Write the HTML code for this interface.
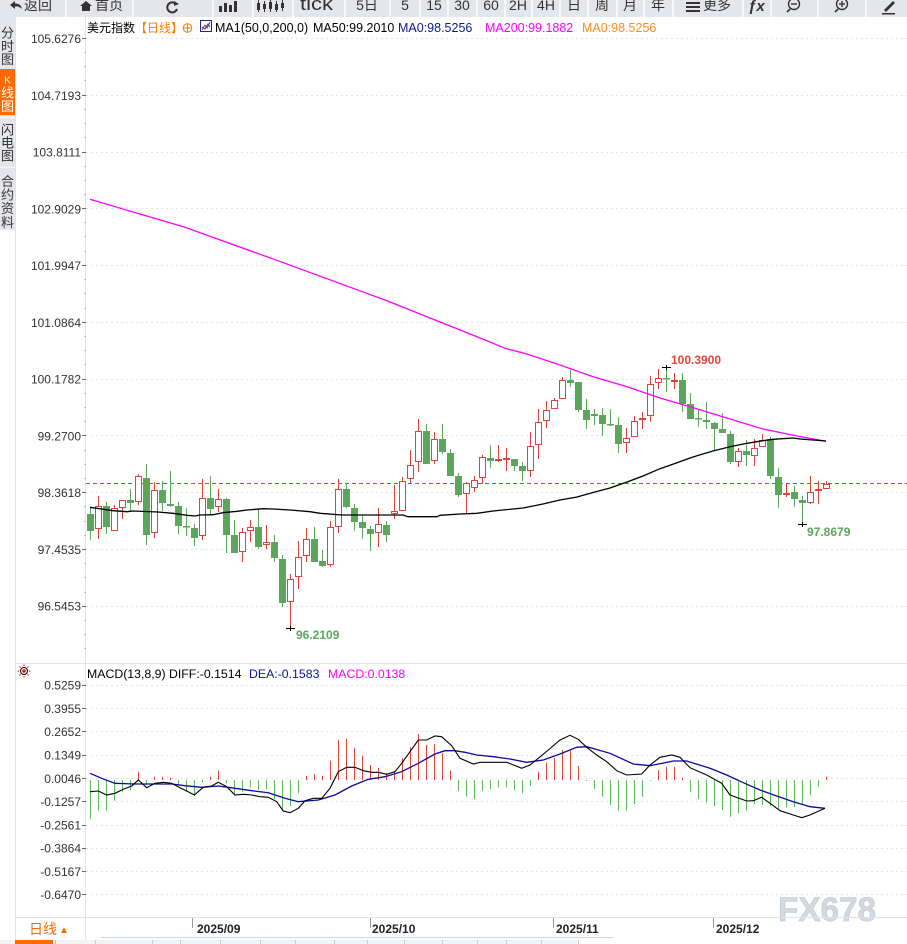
<!DOCTYPE html>
<html><head><meta charset="utf-8"><style>
html,body{margin:0;padding:0;background:#fff;}
body{width:907px;height:944px;overflow:hidden;position:relative;font-family:"Liberation Sans","Noto Sans CJK SC",sans-serif;}
svg{position:absolute;left:0;top:0;}
text{font-family:"Liberation Sans","Noto Sans CJK SC",sans-serif;}
.gc rect{stroke:none}
</style></head><body>
<svg width="907" height="944" viewBox="0 0 907 944" xmlns="http://www.w3.org/2000/svg">
<!-- toolbar -->
<rect x="0" y="0" width="907" height="17" fill="#e4e6eb"/>
<g fill="#f7f8fa">
<rect x="65" y="0" width="2" height="17"/><rect x="132" y="0" width="2" height="17"/><rect x="212" y="0" width="2" height="17"/><rect x="252" y="0" width="2" height="17"/><rect x="292" y="0" width="2" height="17"/><rect x="344" y="0" width="2" height="17"/><rect x="389" y="0" width="2" height="17"/><rect x="419" y="0" width="2" height="17"/><rect x="447" y="0" width="2" height="17"/><rect x="476" y="0" width="2" height="17"/><rect x="504" y="0" width="2" height="17"/><rect x="531" y="0" width="2" height="17"/><rect x="559" y="0" width="2" height="17"/><rect x="587" y="0" width="2" height="17"/><rect x="616" y="0" width="2" height="17"/><rect x="643" y="0" width="2" height="17"/><rect x="672" y="0" width="2" height="17"/><rect x="742" y="0" width="2" height="17"/><rect x="770" y="0" width="2" height="17"/><rect x="817" y="0" width="2" height="17"/><rect x="865" y="0" width="2" height="17"/>
</g>
<g fill="#333" font-size="14">
<path d="M10 5 L15 1 L15 3.5 Q21 3.5 22 9 Q19 6 15 6.5 L15 9 Z" fill="#333"/>
<text x="24" y="10">返回</text>
<path d="M80 6 L86 1 L92 6 L90 6 L90 11 L82 11 L82 6 Z" fill="#333"/>
<text x="95" y="10">首页</text>
<path d="M176 4 A5 5 0 1 0 177 9" fill="none" stroke="#333" stroke-width="2"/>
<path d="M174 1 L179 4 L174 6 Z" fill="#333"/>
<rect x="219" y="6" width="3" height="6"/><rect x="224" y="3" width="3" height="9"/><rect x="229" y="5" width="3" height="7"/><rect x="234" y="1" width="3" height="11"/>
<rect x="257" y="3" width="3" height="7"/><rect x="258" y="0" width="1" height="12"/><rect x="263" y="4" width="3" height="5"/><rect x="264" y="1" width="1" height="11"/><rect x="269" y="2" width="3" height="7"/><rect x="270" y="0" width="1" height="12"/><rect x="275" y="4" width="3" height="6"/><rect x="276" y="1" width="1" height="11"/><rect x="281" y="3" width="3" height="5"/><rect x="282" y="0" width="1" height="11"/>
<text x="300" y="10" font-size="18" textLength="33" lengthAdjust="spacingAndGlyphs">tick</text>
<text x="367" y="10" text-anchor="middle">5日</text>
<text x="405" y="10" text-anchor="middle">5</text>
<text x="434" y="10" text-anchor="middle">15</text>
<text x="462" y="10" text-anchor="middle">30</text>
<text x="491" y="10" text-anchor="middle">60</text>
<text x="518" y="10" text-anchor="middle">2H</text>
<text x="546" y="10" text-anchor="middle">4H</text>
<text x="574" y="10" text-anchor="middle">日</text>
<text x="602" y="10" text-anchor="middle">周</text>
<text x="630" y="10" text-anchor="middle">月</text>
<text x="658" y="10" text-anchor="middle">年</text>
<rect x="686" y="2" width="14" height="2"/><rect x="686" y="6" width="14" height="2"/><rect x="686" y="10" width="14" height="2"/>
<text x="703" y="10">更多</text>
<text x="748" y="11" font-weight="bold" font-style="italic" font-size="15">ƒx</text>
<circle cx="794" cy="4" r="5.5" fill="none" stroke="#333" stroke-width="1.4"/><rect x="791" y="3.3" width="6" height="1.4"/><path d="M790 9 L787 12" stroke="#333" stroke-width="1.6"/>
<circle cx="842" cy="4" r="5.5" fill="none" stroke="#333" stroke-width="1.4"/><rect x="839" y="3.3" width="6" height="1.4"/><rect x="841.3" y="1" width="1.4" height="6"/><path d="M838 9 L835 12" stroke="#333" stroke-width="1.6"/>
<path d="M884 10 L893 1 L895 3 L886 12 Z"/><rect x="882" y="13" width="13" height="1.5"/>
</g>
<!-- left sidebar -->
<rect x="0" y="17" width="15" height="213" fill="#e4e6eb"/>
<rect x="0" y="69" width="15" height="46" fill="#ff6a00"/>
<rect x="0" y="117" width="15" height="1" fill="#f7f8fa"/>
<rect x="0" y="167" width="15" height="1" fill="#f7f8fa"/>
<rect x="15" y="17" width="1" height="927" fill="#dfe4ea"/>
<g font-size="13" text-anchor="middle" fill="#333">
<text x="7.5" y="37.5">分</text><text x="7.5" y="51">时</text><text x="7.5" y="64">图</text>
<text x="7.5" y="83.5" fill="#fff" font-size="10">K</text><text x="7.5" y="97.5" fill="#fff">线</text><text x="7.5" y="111" fill="#fff">图</text>
<text x="7.5" y="134.5">闪</text><text x="7.5" y="147.5">电</text><text x="7.5" y="160.5">图</text>
<text x="7.5" y="186">合</text><text x="7.5" y="199.5">约</text><text x="7.5" y="213">资</text><text x="7.5" y="227">料</text>
</g>
<!-- axis line -->
<rect x="85" y="17" width="1" height="923" fill="#dfe4ea"/>
<!-- grid -->
<g stroke="#e2e5ea" stroke-width="1" stroke-dasharray="2,3">
<path d="M86 38.5H907M86 95.5H907M86 152.5H907M86 208.5H907M86 265.5H907M86 322.5H907M86 379.5H907M86 435.5H907M86 492.5H907M86 549.5H907M86 606.5H907"/>
<path d="M86 685.5H907M86 708.5H907M86 731.5H907M86 755.5H907M86 778.5H907M86 801.5H907M86 825.5H907M86 848.5H907M86 871.5H907M86 894.5H907"/>
</g>
<!-- axis ticks -->
<g stroke="#666" stroke-width="1">
<path d="M82 38.5H86M82 95.5H86M82 152.5H86M82 208.5H86M82 265.5H86M82 322.5H86M82 379.5H86M82 435.5H86M82 492.5H86M82 549.5H86M82 606.5H86"/>
<path d="M82 685.5H86M82 708.5H86M82 731.5H86M82 755.5H86M82 778.5H86M82 801.5H86M82 825.5H86M82 848.5H86M82 871.5H86M82 894.5H86"/>
</g>
<g stroke="#b8bec8" stroke-width="1">
<path d="M84 52.5H86M84 66.5H86M84 80.5H86M84 109.5H86M84 123.5H86M84 137.5H86M84 166.5H86M84 180.5H86M84 194.5H86M84 222.5H86M84 236.5H86M84 251.5H86M84 279.5H86M84 293.5H86M84 308.5H86M84 336.5H86M84 350.5H86M84 364.5H86M84 393.5H86M84 407.5H86M84 421.5H86M84 450.5H86M84 464.5H86M84 478.5H86M84 506.5H86M84 521.5H86M84 535.5H86M84 563.5H86M84 577.5H86M84 592.5H86M84 620.5H86M84 634.5H86M84 648.5H86"/>
</g>
<!-- y labels -->
<g font-size="12" fill="#333" text-anchor="end">
<text x="81" y="43">105.6276</text><text x="81" y="100">104.7193</text><text x="81" y="156.5">103.8111</text><text x="81" y="213.3">102.9029</text><text x="81" y="270">101.9947</text><text x="81" y="326.8">101.0864</text><text x="81" y="383.5">100.1782</text><text x="81" y="440.3">99.2700</text><text x="81" y="497">98.3618</text><text x="81" y="553.8">97.4535</text><text x="81" y="610.5">96.5453</text>
<text x="81" y="689.5">0.5259</text><text x="81" y="712.8">0.3955</text><text x="81" y="736">0.2652</text><text x="81" y="759.5">0.1349</text><text x="81" y="782.8">0.0046</text><text x="81" y="806">-0.1257</text><text x="81" y="829.3">-0.2561</text><text x="81" y="852.5">-0.3864</text><text x="81" y="875.8">-0.5167</text><text x="81" y="899">-0.6470</text>
</g>
<!-- header -->
<g font-size="12.5">
<text x="87" y="32" fill="#000" font-size="12">美元指数</text>
<text x="135" y="32" fill="#ff7f00" font-size="12">【日线】</text>
<circle cx="187.5" cy="28" r="4.3" fill="none" stroke="#ff7f00" stroke-width="1"/>
<path d="M183 28H192M187.5 23.5V32.5" stroke="#ff7f00" stroke-width="1"/>
<rect x="200.5" y="20.5" width="11" height="11" fill="#fff" stroke="#1a2a8a" stroke-width="1"/>
<polyline points="202,30 205,25 207,28 210,22" fill="none" stroke="#d02020" stroke-width="1"/>
<polyline points="202,27 205,29 208,24 210,27" fill="none" stroke="#2040c0" stroke-width="1"/>
<text x="215" y="32" fill="#000">MA1(50,0,200,0)</text>
<text x="313" y="32" fill="#000">MA50:99.2010</text>
<text x="398" y="32" fill="#0a1a8c">MA0:98.5256</text>
<text x="485" y="32" fill="#ff00ff">MA200:99.1882</text>
<text x="582" y="32" fill="#ff8c1a">MA0:98.5256</text>
</g>
<!-- current price dashed line -->
<path d="M86 483.5H907" stroke="#1e7be6" stroke-width="1" stroke-dasharray="4,3"/>
<!-- green candles -->
<g class="gc" stroke="#5ba65b" fill="#5ba65b" stroke-width="1">
<path d="M90.5 507V540"/><rect x="87" y="514" width="7" height="17"/>
<path d="M106.5 502V534"/><rect x="103" y="506" width="7" height="21"/>
<path d="M130.5 489V512"/><rect x="127" y="500" width="7" height="3"/>
<path d="M146.5 464V545"/><rect x="143" y="478" width="7" height="57"/>
<path d="M162.5 481V511"/><rect x="159" y="490" width="7" height="13"/>
<path d="M170.5 471V507"/><rect x="167" y="504" width="7" height="2"/>
<path d="M178.5 502V534"/><rect x="175" y="506" width="7" height="20"/>
<path d="M186.5 508V536"/><rect x="183" y="526" width="7" height="1.5"/>
<path d="M194.5 524V546"/><rect x="191" y="528" width="7" height="10"/>
<path d="M210.5 476V515"/><rect x="207" y="498" width="7" height="11"/>
<path d="M226.5 498V553"/><rect x="223" y="499" width="7" height="36"/>
<path d="M234.5 520V553"/><rect x="231" y="535" width="7" height="18"/>
<path d="M258.5 509V549"/><rect x="255" y="527" width="7" height="20"/>
<path d="M274.5 535V562"/><rect x="271" y="542" width="7" height="16"/>
<path d="M282.5 555V607"/><rect x="279" y="559" width="7" height="44"/>
<path d="M314.5 527V562"/><rect x="311" y="539" width="7" height="23"/>
<path d="M322.5 550V567"/><rect x="319" y="561" width="7" height="5"/>
<path d="M346.5 483V508"/><rect x="343" y="489" width="7" height="18"/>
<path d="M354.5 504V531"/><rect x="351" y="508" width="7" height="14"/>
<path d="M362.5 515V539"/><rect x="359" y="522" width="7" height="6"/>
<path d="M370.5 526V551"/><rect x="367" y="529" width="7" height="5"/>
<path d="M386.5 521V542"/><rect x="383" y="525" width="7" height="10"/>
<path d="M426.5 424V464"/><rect x="423" y="431" width="7" height="33"/>
<path d="M442.5 424V454"/><rect x="439" y="439" width="7" height="13"/>
<path d="M450.5 449V476"/><rect x="447" y="453" width="7" height="23"/>
<path d="M458.5 473V497"/><rect x="455" y="476" width="7" height="19"/>
<path d="M490.5 445V468"/><rect x="487" y="458" width="7" height="3"/>
<path d="M514.5 459V471"/><rect x="511" y="459" width="7" height="7"/>
<path d="M522.5 462V481"/><rect x="519" y="466" width="7" height="5"/>
<path d="M570.5 370V387"/><rect x="567" y="380" width="7" height="3"/>
<path d="M578.5 382V412"/><rect x="575" y="382" width="7" height="28"/>
<path d="M586.5 399V429"/><rect x="583" y="410" width="7" height="10"/>
<path d="M594.5 409V425"/><rect x="591" y="414" width="7" height="2"/>
<path d="M602.5 408V436"/><rect x="599" y="415" width="7" height="9"/>
<path d="M610.5 409V426"/><rect x="607" y="424" width="7" height="1.5"/>
<path d="M618.5 417V453"/><rect x="615" y="425" width="7" height="19"/>
<path d="M666.5 367V392"/><rect x="663" y="378" width="7" height="1.5"/>
<path d="M682.5 373V412"/><rect x="679" y="380" width="7" height="24"/>
<path d="M690.5 393V419"/><rect x="687" y="404" width="7" height="15"/>
<path d="M698.5 409V427"/><rect x="695" y="418" width="7" height="1.5"/>
<path d="M706.5 402V429"/><rect x="703" y="420" width="7" height="2"/>
<path d="M714.5 422V451"/><rect x="711" y="423" width="7" height="6"/>
<path d="M722.5 413V433"/><rect x="719" y="429" width="7" height="4"/>
<path d="M730.5 431V464"/><rect x="727" y="434" width="7" height="28"/>
<path d="M746.5 440V466"/><rect x="743" y="451" width="7" height="4"/>
<path d="M770.5 437V479"/><rect x="767" y="439" width="7" height="37"/>
<path d="M778.5 468V508"/><rect x="775" y="477" width="7" height="18"/>
<path d="M794.5 486V507"/><rect x="791" y="492" width="7" height="7"/>
<path d="M802.5 496V524"/><rect x="799" y="500" width="7" height="3"/>
</g>
<!-- red candles -->
<g stroke="#e0433b" fill="#fff" stroke-width="1">
<path d="M98.5 496V539"/><rect x="95.5" y="506.5" width="6" height="22"/>
<path d="M114.5 505V531"/><rect x="111.5" y="508.5" width="6" height="22"/>
<path d="M122.5 500V519"/><rect x="119.5" y="500.5" width="6" height="7"/>
<path d="M138.5 474V505"/><rect x="135.5" y="476.5" width="6" height="25"/>
<path d="M154.5 482V538"/><rect x="151.5" y="490.5" width="6" height="42"/>
<path d="M202.5 479V540"/><rect x="199.5" y="498.5" width="6" height="37"/>
<path d="M218.5 489V512"/><rect x="215.5" y="499.5" width="6" height="7"/>
<path d="M242.5 528V562"/><rect x="239.5" y="532.5" width="6" height="19"/>
<path d="M250.5 520V542"/><rect x="247.5" y="527.5" width="6" height="3"/>
<path d="M266.5 525V549"/><rect x="263.5" y="542.5" width="6" height="2"/>
<path d="M290.5 574V628"/><rect x="287.5" y="579.5" width="6" height="22"/>
<path d="M298.5 541V589"/><rect x="295.5" y="557.5" width="6" height="19"/>
<path d="M306.5 528V562"/><rect x="303.5" y="539.5" width="6" height="16"/>
<path d="M330.5 521V567"/><rect x="327.5" y="527.5" width="6" height="37"/>
<path d="M338.5 479V533"/><rect x="335.5" y="489.5" width="6" height="37"/>
<path d="M378.5 508V547"/><rect x="375.5" y="524.5" width="6" height="8"/>
<path d="M394.5 485V519"/><rect x="391.5" y="511.5" width="6" height="2"/>
<path d="M402.5 477V511"/><rect x="399.5" y="481.5" width="6" height="29"/>
<path d="M410.5 450V483"/><rect x="407.5" y="465.5" width="6" height="13"/>
<path d="M418.5 419V472"/><rect x="415.5" y="431.5" width="6" height="30"/>
<path d="M434.5 432V464"/><rect x="431.5" y="439.5" width="6" height="21"/>
<path d="M466.5 482V514"/><rect x="463.5" y="483.5" width="6" height="10"/>
<path d="M474.5 476V492"/><rect x="471.5" y="480.5" width="6" height="7"/>
<path d="M482.5 455V484"/><rect x="479.5" y="457.5" width="6" height="20"/>
<path d="M498.5 445V462"/><rect x="495.5" y="459.5" width="6" height="1"/>
<path d="M506.5 448V471"/><rect x="503.5" y="458.5" width="6" height="1"/>
<path d="M530.5 432V477"/><rect x="527.5" y="446.5" width="6" height="24"/>
<path d="M538.5 409V459"/><rect x="535.5" y="422.5" width="6" height="22"/>
<path d="M546.5 401V428"/><rect x="543.5" y="410.5" width="6" height="10"/>
<path d="M554.5 398V409"/><rect x="551.5" y="400.5" width="6" height="8"/>
<path d="M562.5 377V399"/><rect x="559.5" y="380.5" width="6" height="18"/>
<path d="M626.5 428V453"/><rect x="623.5" y="438.5" width="6" height="4"/>
<path d="M634.5 416V437"/><rect x="631.5" y="421.5" width="6" height="15"/>
<path d="M642.5 412V429"/><rect x="639.5" y="418.5" width="6" height="1"/>
<path d="M650.5 376V422"/><rect x="647.5" y="384.5" width="6" height="31"/>
<path d="M658.5 369V389"/><rect x="655.5" y="378.5" width="6" height="4"/>
<path d="M674.5 373V389"/><rect x="671.5" y="380.5" width="6" height="1" fill="#e0433b"/>
<path d="M738.5 448V467"/><rect x="735.5" y="451.5" width="6" height="10"/>
<path d="M754.5 439V466"/><rect x="751.5" y="448.5" width="6" height="7"/>
<path d="M762.5 434V447"/><rect x="759.5" y="440.5" width="6" height="6"/>
<path d="M786.5 483V497"/><rect x="783.5" y="493.5" width="6" height="1" fill="#e0433b"/>
<path d="M810.5 476V504"/><rect x="807.5" y="492.5" width="6" height="10"/>
<path d="M818.5 481V504"/><rect x="815.5" y="489.5" width="6" height="1"/>
<path d="M826.5 481V489"/><rect x="823.5" y="484.5" width="6" height="4"/>
</g>
<!-- MA lines -->
<polyline fill="none" stroke="#ff00ff" stroke-width="1.3" points="90,199.3 185,227.3 285,263.3 385,300 485,340 505,348.3 527,354 560,365 593,376.7 627,386.7 660,398 690,406.7 730,419 763,429 797,436 826,441.3"/>
<polyline fill="none" stroke="#000" stroke-width="1.3" points="90,507.3 113,510.7 127,511.7 133,511 158,512 173,513.3 187,515.3 195,516 200,515 213,514.7 223,512.7 237,511.3 247,510 263,508.7 273,509 290,510 310,511.7 320,513.3 342,515 403,515 408,516.7 437,516.7 440,515.3 460,514 477,513.3 493,511 523,508 543,504 560,500 577,497 593,492.5 610,488 627,482 643,476 660,468.7 677,462.7 690,458 697,455.7 713,451 730,446.7 747,443.3 763,440.7 773,439.3 793,438 800,439 813,440 826,441"/>
<!-- extreme markers -->
<g stroke="#000" stroke-width="1">
<path d="M286 628.5H295M290.5 626V631"/>
<path d="M662 367.5H671M666.5 365V370"/>
<path d="M798 524.5H807M802.5 522V527"/>
</g>
<g font-size="12" font-weight="bold">
<text x="671" y="364" fill="#e0463a">100.3900</text>
<text x="296" y="639" fill="#5ba65b">96.2109</text>
<text x="807" y="536" fill="#5ba65b">97.8679</text>
</g>
<!-- panel separator -->
<rect x="15" y="663" width="892" height="1" fill="#dfe4ea"/>
<!-- MACD header -->
<circle cx="24" cy="671" r="3.5" fill="none" stroke="#000" stroke-width="1"/>
<circle cx="24" cy="671" r="1.8" fill="#e00"/>
<g stroke="#e00" stroke-width="1"><path d="M24 664.5V666M24 676V677.5M17.5 671H19M29 671H30.5M19.5 666.5L20.5 667.5M27.5 674.5L28.5 675.5M28.5 666.5L27.5 667.5M20.5 674.5L19.5 675.5"/></g>
<g font-size="12.3">
<text x="87" y="678" fill="#000">MACD(13,8,9) DIFF:-0.1514</text>
<text x="249" y="678" fill="#0a1a8c">DEA:-0.1583</text>
<text x="328" y="678" fill="#ff00ff">MACD:0.0138</text>
</g>
<!-- MACD histogram -->
<g stroke="#5cb85c" stroke-width="1" fill="none">
<path d="M90.5 780V819M98.5 780V810.7M106.5 780V810.7M114.5 780V800.7M122.5 780V791.7M130.5 780V790M146.5 780V785M178.5 780V785M186.5 780V791.7M194.5 780V796M202.5 780V782.3M226.5 780V783.3M234.5 780V794M242.5 780V791.7M250.5 780V787.3M258.5 780V790M266.5 780V789.3M274.5 780V799.3M282.5 780V809.3M290.5 780V806M298.5 780V793.3M458.5 780V791M466.5 780V796.7M474.5 780V799M482.5 780V791M490.5 780V789M498.5 780V787.3M506.5 780V787.3M514.5 780V790M522.5 780V793.3M530.5 780V785.7M586.5 780V781M594.5 780V789M602.5 780V796.7M610.5 780V805M618.5 780V810.7M626.5 780V810.7M634.5 780V804M642.5 780V796.7M650.5 780V781M690.5 780V791.7M698.5 780V799M706.5 780V802.7M714.5 780V806M722.5 780V810M730.5 780V816.7M738.5 780V813.3M746.5 780V810.7M754.5 780V804M762.5 780V805M770.5 780V806M778.5 780V809.3M786.5 780V807.3M794.5 780V806.7M802.5 780V805M810.5 780V795M818.5 780V786.7"/>
</g>
<g stroke="#e8453c" stroke-width="1" fill="none">
<path d="M138.5 780V771.7M154.5 780V776.7M162.5 780V776.7M170.5 780V777.7M210.5 780V776.7M218.5 780V770.7M306.5 780V775.7M314.5 780V774.3M322.5 780V776M330.5 780V760.7M338.5 780V740M346.5 780V739M354.5 780V747.7M362.5 780V755.7M370.5 780V765M378.5 780V767.7M386.5 780V773.3M394.5 780V771M402.5 780V758.3M410.5 780V747.3M418.5 780V734M426.5 780V745M434.5 780V744M442.5 780V753.3M450.5 780V770.7M538.5 780V771.7M546.5 780V762.7M554.5 780V757.7M562.5 780V750M570.5 780V750.7M578.5 780V766M658.5 780V770M666.5 780V766.7M674.5 780V766.7M682.5 780V777.7M826.5 780V776.7"/>
</g>
<!-- DEA -->
<polyline fill="none" stroke="#0a0aa0" stroke-width="1.3" points="90,773.3 101.7,778.3 115,783.3 135,784 171.7,784 185,785.7 201.7,787.3 218.3,786 235,788.3 251.7,790.7 268.3,792.7 285,798.3 298.3,801.7 318.3,800 335,795 351.7,786 368.3,779.3 385,776.7 401.7,771.7 418.3,763.3 435,754 445,750.7 455,750.7 465,752.3 476.7,755 493.3,756.7 510,759 526.7,762.3 543.3,760 560,754 576.7,747.3 586.7,746.7 610,753.3 633.3,764 650,765.7 673.3,761 686.7,761 710,768.3 726.7,775 743.3,782.7 760,790 776.7,796 793.3,801.7 810,806.7 825,808.3"/>
<!-- DIFF -->
<polyline fill="none" stroke="#000" stroke-width="1.1" points="90,791.7 98.3,791 106.7,795 115,793.3 123.3,789.3 131.7,786 138.3,780 146.7,787.7 155,783.3 163.3,782.3 171.7,783.3 180,787.7 186.7,791 194.3,795 203.3,787.3 211.7,786 218.3,782.3 226.7,786.7 235,795 243.3,794.3 251.7,795 260,796.7 268.3,797.3 276.7,801.7 283.3,811 290,812.7 298.3,808.3 305,800.7 313.3,798.3 321.7,798.3 330,788.3 338.3,771.7 346.7,767.3 355,767.3 363.3,770.7 371.7,772.3 378.3,772.3 386.7,774.3 395,771.7 401.7,763.3 410,751.7 418.3,740 426.7,740 435,736 441.7,736.7 451.7,745.7 460,758.3 473.3,764 480,762.3 506.7,762.3 521.7,768.3 530,765 538.3,758.3 548.3,750 560,740 570,735.3 578.3,739.3 586.7,747.3 596.7,755 606.7,761.7 616.7,770.7 626.7,775 641.7,774 650,765 660,757.3 671.7,755 680,757.3 690,767.7 706.7,775 721.7,783.3 730,795 746.7,801 753.3,800.7 761.7,797.3 770,803.3 780,810.7 793.3,815 801.7,817.7 810,815 825,808.3"/>
<!-- watermark -->
<text x="778" y="921" font-size="34" font-weight="bold" fill="#d3d9e1" stroke="#bcc5d0" stroke-width="0.6" textLength="98" lengthAdjust="spacingAndGlyphs">FX678</text>
<!-- bottom date axis -->
<rect x="15" y="917" width="892" height="1" fill="#dfe4ea"/>
<g stroke="#999" stroke-width="1"><path d="M192.5 918V928M370.5 918V928M553.5 918V928M713.5 918V928"/></g>
<g font-size="12" font-weight="bold" fill="#222">
<text x="197" y="933">2025/09</text>
<text x="372" y="933">2025/10</text>
<text x="556" y="933">2025/11</text>
<text x="716" y="933">2025/12</text>
</g>
<text x="29" y="934" font-size="14" fill="#ff6a00">日线</text>
<text x="59" y="933" font-size="10" fill="#ff6a00">▲</text>
<rect x="101" y="937" width="512" height="1" fill="#d0d5dc"/>
<!-- bottom tabs -->
<rect x="0" y="940" width="907" height="4" fill="#f2f3f5"/>
<rect x="15" y="940" width="38" height="4" fill="#ff6a00"/>
<g fill="#c8ccd2">
<rect x="55" y="940" width="1" height="4"/><rect x="95" y="940" width="1" height="4"/><rect x="152" y="940" width="1" height="4"/><rect x="180" y="940" width="1" height="4"/><rect x="220" y="940" width="1" height="4"/><rect x="260" y="940" width="1" height="4"/><rect x="295" y="940" width="1" height="4"/><rect x="334" y="940" width="1" height="4"/><rect x="367" y="940" width="1" height="4"/><rect x="404" y="940" width="1" height="4"/><rect x="442" y="940" width="1" height="4"/><rect x="477" y="940" width="1" height="4"/><rect x="506" y="940" width="1" height="4"/><rect x="541" y="940" width="1" height="4"/><rect x="578" y="940" width="1" height="4"/>
</g>
<rect x="579" y="940" width="328" height="4" fill="#fff"/>
</svg>
</body></html>
